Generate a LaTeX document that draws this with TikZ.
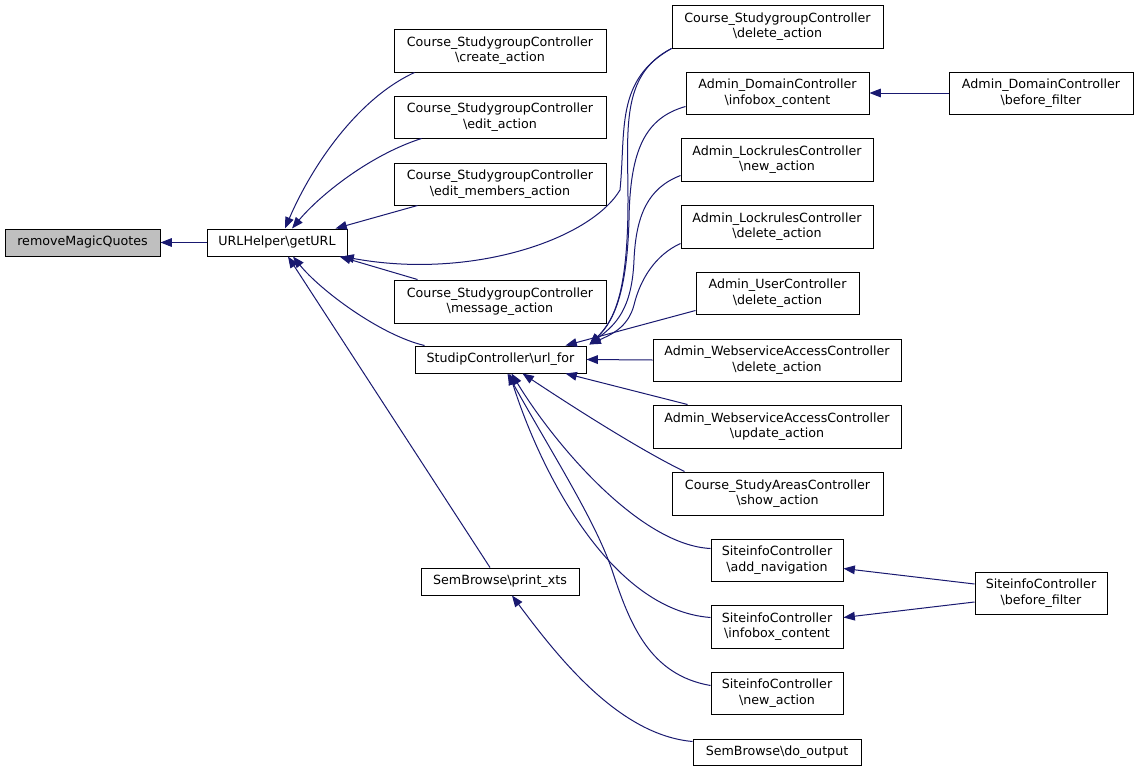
\documentclass[tikz,border=0pt]{standalone}
\usepackage{fontspec}
\setmainfont{DejaVu Sans}
\usetikzlibrary{arrows.meta,calc}
\definecolor{mb}{HTML}{191970}
\definecolor{hl}{HTML}{BFBFBF}
\newcommand{\bs}{\textbackslash}
\begin{document}
\begin{tikzpicture}[x=0.75pt,y=-0.75pt,
  fn/.style 2 args={draw=black, line width=0.75pt, inner sep=0pt, align=center,
     minimum width=#1*0.75pt, minimum height=#2*0.75pt,
     font=\fontsize{9.5}{11.6}\selectfont},
  edge/.style={draw=mb, line width=0.75pt, arrows={Triangle[length=8.5pt,width=6.5pt,fill=mb]-}}]
\path[use as bounding box, fill=white] (0,0) rectangle (1139,771);

% column 0/1
\node[fn={155}{27}, fill=hl] (rmq) at (82.5,242.5) {removeMagicQuotes};
\node[fn={140}{27}] (geturl) at (277,242.5) {URLHelper\bs getURL};
% column 2
\node[fn={212}{43}] (create) at (500,50.5) {Course\_StudygroupController\\\bs create\_action};
\node[fn={212}{42}] (edit) at (500,117) {Course\_StudygroupController\\\bs edit\_action};
\node[fn={212}{42}] (editm) at (500,184) {Course\_StudygroupController\\\bs edit\_members\_action};
\node[fn={212}{43}] (message) at (500,301.5) {Course\_StudygroupController\\\bs message\_action};
\node[fn={171}{27}] (urlfor) at (500.5,359.5) {StudipController\bs url\_for};
\node[fn={158}{27}] (printxts) at (500,581.5) {SemBrowse\bs print\_xts};
% column 3
\node[fn={211}{43}] (cdelete) at (777.5,26.5) {Course\_StudygroupController\\\bs delete\_action};
\node[fn={183}{42}] (adinfo) at (777.5,93) {Admin\_DomainController\\\bs infobox\_content};
\node[fn={192}{43}] (lnew) at (777,159.5) {Admin\_LockrulesController\\\bs new\_action};
\node[fn={192}{43}] (ldel) at (777,226.5) {Admin\_LockrulesController\\\bs delete\_action};
\node[fn={163}{42}] (udel) at (777.5,293) {Admin\_UserController\\\bs delete\_action};
\node[fn={248}{42}] (wsdel) at (777,360) {Admin\_WebserviceAccessController\\\bs delete\_action};
\node[fn={248}{43}] (wsupd) at (777,426.5) {Admin\_WebserviceAccessController\\\bs update\_action};
\node[fn={211}{43}] (show) at (777.5,493.5) {Course\_StudyAreasController\\\bs show\_action};
\node[fn={132}{42}] (addnav) at (777,560) {SiteinfoController\\\bs add\_navigation};
\node[fn={132}{43}] (sinfo) at (777,626.5) {SiteinfoController\\\bs infobox\_content};
\node[fn={132}{42}] (snew) at (777,693) {SiteinfoController\\\bs new\_action};
\node[fn={168}{26}] (doout) at (777,752) {SemBrowse\bs do\_output};
% column 4
\node[fn={184}{42}] (adbf) at (1041,93) {Admin\_DomainController\\\bs before\_filter};
\node[fn={132}{42}] (sbf) at (1041,593) {SiteinfoController\\\bs before\_filter};

% edges into removeMagicQuotes
\draw[edge] (rmq.east) -- (geturl.west);
% edges into getURL
\draw[edge] ($(geturl.north)+(8,0)$) .. controls (310,170) and (355,100) .. ($(create.south west)+(21,0)$);
\draw[edge] ($(geturl.north)+(15,0)$) .. controls (320,195) and (370,155) .. ($(edit.south west)+(28,0)$);
\draw[edge] ($(geturl.north east)+(-12,0)$) -- ($(editm.south west)+(24,0)$);
\draw[edge] ($(geturl.south east)+(-5,0)$) .. controls (470,280) and (590,240) .. (620,190)
   .. controls (626,130) and (615,80) .. (cdelete.south west);
\draw[edge] ($(geturl.south east)+(-8,0)$) -- ($(message.north west)+(24,0)$);
\draw[edge] ($(geturl.south)+(16,0)$) .. controls (320,290) and (380,335) .. ($(urlfor.north west)+(10,0)$);
\draw[edge] ($(geturl.south)+(11,0)$) -- ($(printxts.north)+(-10,0)$);
% edges into url_for
\draw[edge] ($(urlfor.north east)+(3,-1)$) .. controls (615,320) and (628,290) .. (628,200)
   .. controls (628,130) and (620,75) .. (cdelete.south west);
\draw[edge] ($(urlfor.north east)+(3,-1)$) .. controls (615,320) and (627,290) .. (629,220)
   .. controls (630,150) and (645,118) .. ($(adinfo.south west)+(0,-8)$);
\draw[edge] ($(urlfor.north east)+(3,-1)$) .. controls (615,325) and (632,310) .. (634,260)
   .. controls (636,215) and (648,188) .. ($(lnew.south west)+(0,-6)$);
\draw[edge] ($(urlfor.north east)+(3,-1)$) .. controls (610,335) and (628,328) .. (634,305)
   .. controls (640,280) and (655,255) .. ($(ldel.south west)+(0,-5)$);
\draw[edge] ($(urlfor.north east)+(-21,0)$) -- ($(udel.south west)+(0,-4)$);
\draw[edge] (urlfor.east) -- (wsdel.west);
\draw[edge] ($(urlfor.south east)+(-21,0)$) -- ($(wsupd.north west)+(35,0)$);
\draw[edge] ($(urlfor.south)+(22,0)$) .. controls (570,405) and (640,450) .. ($(show.north west)+(13,0)$);
\draw[edge] ($(urlfor.south)+(11,0)$) .. controls (555,445) and (640,545) .. ($(addnav.north west)+(0,10)$);
\draw[edge] ($(urlfor.south)+(9,0)$) .. controls (540,470) and (610,610) .. ($(sinfo.north west)+(0,13)$);
\draw[edge] ($(urlfor.south)+(7,0)$) .. controls (550,450) and (595,520) .. (612,570)
   .. controls (630,625) and (650,675) .. ($(snew.north west)+(0,14)$);
% edge into print_xts
\draw[edge] ($(printxts.south)+(12,0)$) .. controls (560,660) and (620,735) .. ($(doout.north west)+(0,3)$);
% right column edges
\draw[edge] (adinfo.east) -- (adbf.west);
\draw[edge] ($(addnav.south east)+(0,-13)$) -- ($(sbf.west)+(0,-9)$);
\draw[edge] ($(sinfo.north east)+(0,13)$) -- ($(sbf.west)+(0,9)$);
\end{tikzpicture}
\end{document}
